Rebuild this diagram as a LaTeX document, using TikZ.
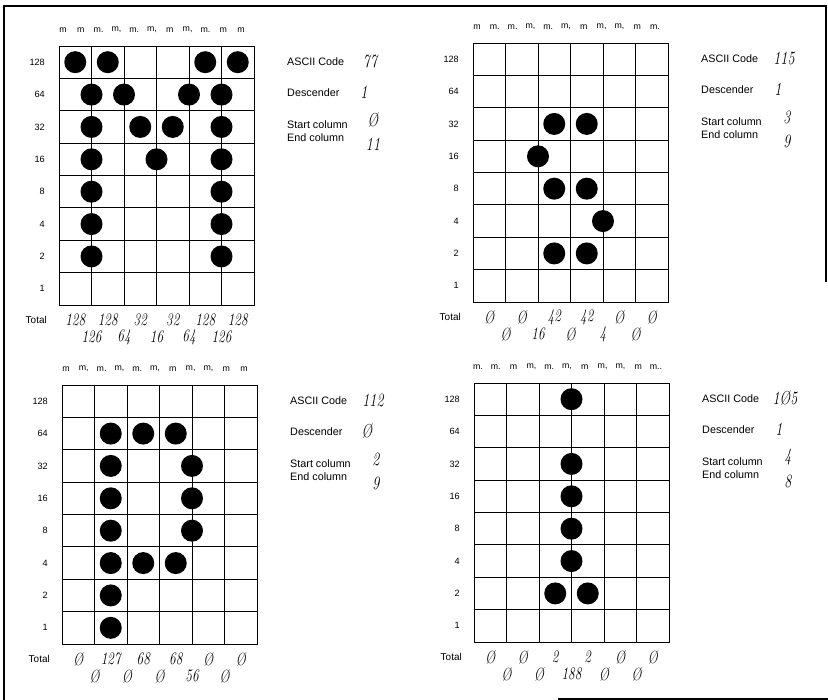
\documentclass[tikz,border=0pt]{standalone}
\usepackage{fontspec}
\setsansfont{Liberation Sans}
\usetikzlibrary{positioning}
\tikzset{
  gridline/.style={line width=0.7pt, black},
  frame/.style={line width=1.1pt, black},
  dot/.style={fill=black},
  rowlbl/.style={
    anchor=east, inner sep=0pt,
    font=\sffamily\fontsize{7.8}{8}\selectfont
  },
  totlbl/.style={
    anchor=east, inner sep=0pt,
    font=\sffamily\fontsize{8.5}{9}\selectfont
  },
  mhead/.style={
    inner sep=0pt,
    font=\sffamily\fontsize{7.5}{8}\selectfont
  },
  lbl/.style={
    anchor=west, inner sep=0pt, align=left,
    font=\sffamily\fontsize{9.2}{10}\selectfont
  },
  hand/.style={
    inner sep=0pt, xscale=0.75, transform shape,
    font=\itshape\fontsize{15}{16}\selectfont
  },
  handbig/.style={
    hand, font=\itshape\fontsize{16}{17}\selectfont
  },
}

% one 6 x 8 dot grid, with row weights, print-position heads and 'Total'
\newcommand{\dotgrid}[2]{%
  \draw[gridline] (0,0) rectangle (195,259);
  \foreach \c in {1,...,5}
    \draw[gridline] (\c*32.5,0) -- (\c*32.5,259);
  \foreach \r in {1,...,7}
    \draw[gridline] (0,\r*32.375) -- (195,\r*32.375);
  \foreach \v [count=\r from 0] in {128,64,32,16,8,4,2,1}
    \node[rowlbl] (#1-r\v) at (-14,16.2+\r*32.375) {\v};
  \foreach \t [count=\i from 0] in {#2}
    \node[mhead] (#1-m\i) at (4+17.8*\i,-16) {\t};
  \node[totlbl] (#1-total) at (-12,274) {Total};
}
% dots at print position p (0..10) in row r (0..7)
\newcommand{\pins}[1]{%
  \foreach \p/\r in {#1}
    \fill[dot] ({16.25*(\p+1)},{32.375*(\r+0.5)}) circle (11);
}
% column totals: even positions on the upper line, odd ones below
\newcommand{\totals}[3]{%
  \foreach \t [count=\i from 0] in {#2}
    \node[hand] (#1-te\i) at ({16.25*(2*\i+1)},274) {\t};
  \foreach \t [count=\i from 0] in {#3}
    \node[hand] (#1-to\i) at ({16.25*(2*\i+2)},291) {\t};
}
% the four notes on the right of a grid
\newcommand{\notes}[5]{%
  \node[lbl] (#1-code)  at (228,16) {ASCII Code};
  \node[handbig] (#1-codev) at (311,15) {#2};
  \node[lbl] (#1-desc)  at (228,47) {Descender};
  \node[handbig] (#1-descv) at (305,46) {#3};
  \node[lbl] (#1-start) at (228,79) {Start column};
  \node[lbl] (#1-end)   at (228,92) {End column};
  \node[handbig] (#1-startv) at (314,74) {#4};
  \node[handbig] (#1-endv)   at (314,98) {#5};
}

\begin{document}
\begin{tikzpicture}[x=0.03cm, y=-0.03cm]
  \useasboundingbox (0,0) rectangle (828,700);

  % page frame (partly lost in the scan)
  \draw[frame] (4,700) -- (4,6) -- (826,6) -- (826,282);
  \draw[frame] (558,699) -- (828,699);

  % ── M, code 77 ────────────────────────────────────────────────
  \begin{scope}[shift={(59,46)}]
    \dotgrid{charM}{m,m,m.,{m,},m.,{m,},m,{m,},m.,m,m}
    \pins{0/0,2/0,8/0,10/0, 1/1,3/1,7/1,9/1, 1/2,4/2,6/2,9/2,
          1/3,5/3,9/3, 1/4,9/4, 1/5,9/5, 1/6,9/6}
    \totals{charM}{128,128,32,32,128,128}{126,64,16,64,126}
    \notes{charM}{77}{1}{\O}{11}
  \end{scope}

  % ── s, code 115 ───────────────────────────────────────────────
  \begin{scope}[shift={(473,43)}]
    \dotgrid{chars}{m,m.,m.,{m,},m.,{m,},m,{m,},{m,},m,m.}
    \pins{4/2,6/2, 3/3, 4/4,6/4, 7/5, 4/6,6/6}
    \totals{chars}{\O,\O,42,42,\O,\O}{\O,16,\O,4,\O}
    \notes{chars}{115}{1}{3}{9}
  \end{scope}

  % ── p, code 112 ───────────────────────────────────────────────
  \begin{scope}[shift={(62,385)}]
    \dotgrid{charp}{m,{m,},m.,{m,},m.,{m,},m,{m,},{m,},m,m}
    \pins{2/1,4/1,6/1, 2/2,7/2, 2/3,7/3, 2/4,7/4,
          2/5,4/5,6/5, 2/6, 2/7}
    \totals{charp}{\O,127,68,68,\O,\O}{\O,\O,\O,56,\O}
    \notes{charp}{112}{\O}{2}{9}
  \end{scope}

  % ── i, code 105 ───────────────────────────────────────────────
  \begin{scope}[shift={(474,383)}]
    \dotgrid{chari}{m.,m.,m,{m,},m.,{m,},m,{m,},{m,},m,m..}
    \pins{5/0, 5/2, 5/3, 5/4, 5/5, 4/6,6/6}
    \totals{chari}{\O,\O,2,2,\O,\O}{\O,\O,188,\O,\O}
    \notes{chari}{1\O5}{1}{4}{8}
  \end{scope}

\end{tikzpicture}
\end{document}
